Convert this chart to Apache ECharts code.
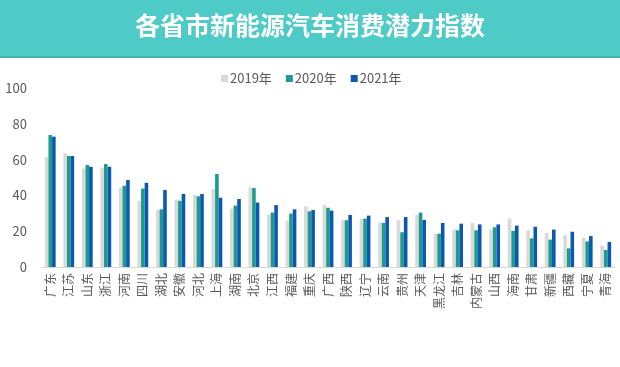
<!DOCTYPE html>
<html><head><meta charset="utf-8">
<script src="https://cdn.jsdelivr.net/npm/echarts@6/dist/echarts.min.js"></script>
<style>html,body{margin:0;padding:0;background:#fff}#c{width:620px;height:367px}</style>
</head><body><div id="c"></div>
<script>
const categories = ['广东','江苏','山东','浙江','河南','四川','湖北','安徽','河北','上海','湖南','北京','江西','福建','重庆','广西','陕西','辽宁','云南','贵州','天津','黑龙江','吉林','内蒙古','山西','海南','甘肃','新疆','西藏','宁夏','青海'];
const v2019 = [61.5,63.5,55,55.5,44.3,37,31.8,37.6,40.2,43.6,32.6,44.5,29.2,25.9,33.9,34.6,26.3,27,24.8,26.3,29.2,18.6,20.9,24.6,20.9,27,20.5,19,17.7,16.4,11.9];
const v2020 = [73.7,62,57,57.5,45.4,43.8,32.2,37,39.5,52,34.3,44.1,30.4,29.8,31.1,33.1,26.1,27,24.6,19.4,30.4,18.6,20.5,20.5,22.2,20.1,16,15.3,10.4,14.3,9.5];
const v2021 = [72.8,62,56,56,48.6,47,43,40.8,40.8,38.7,38,36,34.6,32.2,31.8,31.5,29.1,28.7,27.9,27.9,26.3,24.6,24.2,23.8,23.8,23.1,22.5,20.9,19.7,17.3,14];
const seriesNames = ['2019年','2020年','2021年'];
const yTicks = {min:0,max:100,interval:20};
const titleText = '各省市新能源汽车消费潜力指数';

const chart = echarts.init(document.getElementById('c'), null, {renderer:'canvas'});
const font = '"Noto Sans CJK SC", "Noto Sans", sans-serif';
const colors = ['#D9D9D9','#1C9C8C','#0B57B3'];
const mk = (name, data, i) => ({
  name, type:'bar', data, barWidth:3.6, barGap:'0%',
  itemStyle:{color:colors[i]}
});
chart.setOption({
  animation:false,
  textStyle:{fontFamily:font},
  graphic:[
    {type:'rect', shape:{x:0,y:0,width:620,height:56}, style:{fill:'#4FCBC7'}, z:0},
    {type:'rect', shape:{x:0,y:56,width:620,height:2}, style:{fill:'#3FB8B4'}, z:0},
    {type:'text', left:'center', top:13, style:{text:titleText, fill:'#fff', font:'bold 25px "Noto Sans CJK SC"'}, z:1}
  ],
  legend:{
    data:seriesNames, left:216, top:67, icon:'rect', itemWidth:7, itemHeight:7, itemGap:14,
    textStyle:{color:'#595959', fontSize:13, fontFamily:font, padding:[0,0,0,-3]}
  },
  grid:{left:41, right:5, top:88, bottom:100, containLabel:false},
  xAxis:{
    type:'category', data:categories,
    axisLine:{lineStyle:{color:'#D9D9D9'}}, axisTick:{show:false},
    axisLabel:{rotate:90, interval:0, fontSize:12, color:'#595959', margin:6, fontFamily:font}
  },
  yAxis:{
    type:'value', min:yTicks.min, max:yTicks.max, interval:yTicks.interval,
    splitLine:{show:false}, axisLine:{show:false}, axisTick:{show:false},
    axisLabel:{fontSize:13, color:'#595959', margin:14, fontFamily:font}
  },
  series:[mk(seriesNames[0],v2019,0), mk(seriesNames[1],v2020,1), mk(seriesNames[2],v2021,2)]
});
</script></body></html>
